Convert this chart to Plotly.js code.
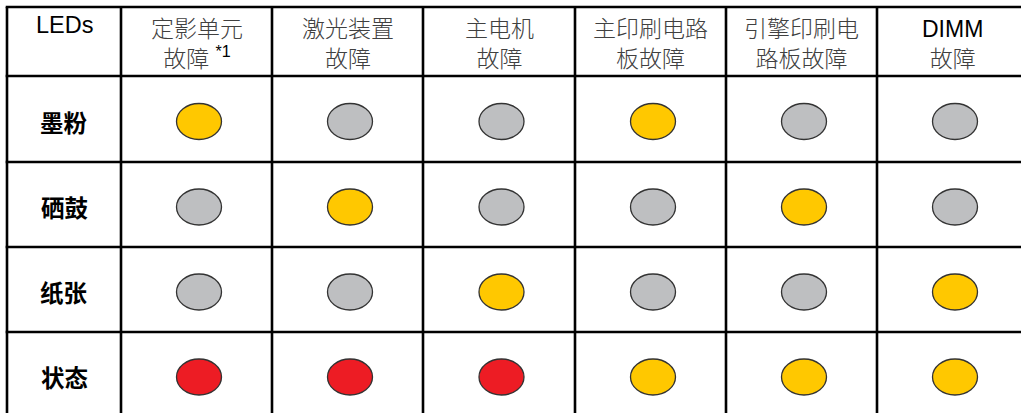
<!DOCTYPE html>
<html>
<head>
<meta charset="utf-8">
<script src="https://cdn.plot.ly/plotly-3.0.1.min.js"></script>
<style>html,body{margin:0;padding:0;background:#fff;}#chart{width:1021px;height:413px;}</style>
</head>
<body>
<div id="chart"></div>
<script>
// ---- data ----
const cornerLabel = 'LEDs';
const columnLabels = [
  '定影单元<br>故障 <sup>*1</sup>',
  '激光装置<br>故障',
  '主电机<br>故障',
  '主印刷电路<br>板故障',
  '引擎印刷电<br>路板故障',
  'DIMM<br>故障'
];
const rowLabels = ['墨粉', '硒鼓', '纸张', '状态'];
// LED state per row, per column: Y = yellow (on), G = grey (off), R = red
const tonerLED  = ['Y', 'G', 'G', 'Y', 'G', 'G'];
const drumLED   = ['G', 'Y', 'G', 'G', 'Y', 'G'];
const paperLED  = ['G', 'G', 'Y', 'G', 'G', 'Y'];
const statusLED = ['R', 'R', 'R', 'Y', 'Y', 'Y'];
const ledRows = [tonerLED, drumLED, paperLED, statusLED];

// ---- layout / style ----
const colEdges = [7, 121, 272, 423, 575, 726, 877, 1028];
const rowEdges = [7, 76, 162, 247, 332, 417];
const ledColors = { Y: '#FFC800', G: '#BEBFC1', R: '#ED1C24' };
const ledHalfW = 22.5, ledHalfH = 18, ledDx = 2.5, ledDy = 2.5;
const lineW = 2.6;

const shapes = [];
const annotations = [];

// grid lines
colEdges.forEach(x => shapes.push({
  type: 'line', xref: 'x', yref: 'y', x0: x, x1: x, y0: rowEdges[0], y1: rowEdges[rowEdges.length - 1],
  line: { color: '#000', width: lineW }, layer: 'above'
}));
rowEdges.forEach(y => shapes.push({
  type: 'line', xref: 'x', yref: 'y', x0: colEdges[0] - lineW / 2, x1: colEdges[colEdges.length - 1], y0: y, y1: y,
  line: { color: '#000', width: lineW }, layer: 'above'
}));

const cx = i => (colEdges[i] + colEdges[i + 1]) / 2;
const cy = j => (rowEdges[j] + rowEdges[j + 1]) / 2;

// LEDs
ledRows.forEach((row, j) => {
  row.forEach((state, i) => {
    const x = cx(i + 1) + ledDx, y = cy(j + 1) + ledDy;
    shapes.push({
      type: 'circle', xref: 'x', yref: 'y',
      x0: x - ledHalfW, x1: x + ledHalfW, y0: y - ledHalfH, y1: y + ledHalfH,
      fillcolor: ledColors[state], line: { color: '#333', width: 1.3 }
    });
  });
});

// header texts
annotations.push({
  xref: 'x', yref: 'y', x: cx(0), y: 24.5, text: cornerLabel, showarrow: false,
  font: { family: 'Liberation Sans, Arial, sans-serif', size: 23.5, color: '#000' },
  xanchor: 'center', yanchor: 'middle'
});
columnLabels.forEach((t, i) => {
  const txt = t.split('<br>').map(s => s.replace(/([\u4e00-\u9fff]+)/g, '<span style="color:#404040">$1</span>')).join('<br>');
  annotations.push({
    xref: 'x', yref: 'y', x: cx(i + 1), y: 43.5, text: txt, showarrow: false,
    font: { family: 'Liberation Sans, Noto Sans CJK SC, sans-serif', size: 23, color: '#000', weight: 300 },
    xanchor: 'center', yanchor: 'middle', align: 'center'
  });
});
rowLabels.forEach((t, j) => {
  annotations.push({
    xref: 'x', yref: 'y', x: cx(0), y: cy(j + 1) + 2.5, text: '<b>' + t + '</b>', showarrow: false,
    font: { family: 'Noto Sans CJK SC, sans-serif', size: 23.5, color: '#000' },
    xanchor: 'center', yanchor: 'middle'
  });
});

const data = [{ type: 'scatter', x: [], y: [], mode: 'markers', hoverinfo: 'skip', showlegend: false }];

const layout = {
  width: 1021, height: 413,
  margin: { l: 0, r: 0, t: 0, b: 0, pad: 0 },
  paper_bgcolor: '#fff', plot_bgcolor: '#fff',
  xaxis: { range: [0, 1021], visible: false, fixedrange: true },
  yaxis: { range: [413, 0], visible: false, fixedrange: true },
  showlegend: false,
  shapes: shapes,
  annotations: annotations
};

Plotly.newPlot('chart', data, layout, { staticPlot: true, displayModeBar: false });
</script>
</body>
</html>
